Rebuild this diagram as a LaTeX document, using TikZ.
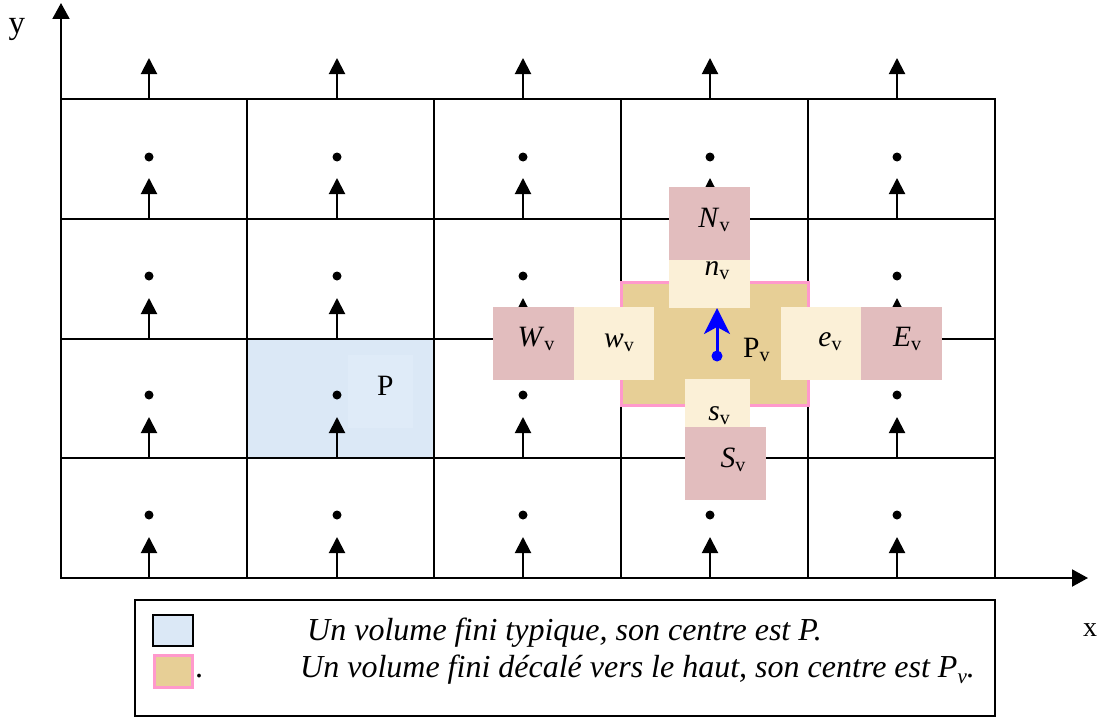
\documentclass[tikz,border=0pt]{standalone}
\usepackage{fontspec}
\setmainfont{Liberation Serif}
\usetikzlibrary{arrows.meta}
\definecolor{pinkbox}{RGB}{226,189,190}
\definecolor{creambox}{RGB}{251,240,215}
\definecolor{tanbox}{RGB}{231,207,150}
\definecolor{pinkborder}{RGB}{255,153,204}
\definecolor{bluecell}{RGB}{219,232,246}
\definecolor{bluecellhi}{RGB}{223,235,248}
\newcommand{\vsub}{\raisebox{-0.16em}{\fontsize{20}{20}\selectfont v}}
\newcommand{\vsubit}{\raisebox{-0.2em}{\fontsize{21}{21}\selectfont\itshape v}}
\begin{document}
\begin{tikzpicture}[x=1pt,y=-1pt,
  uparrow/.style={line width=2pt,-{Triangle[width=16pt,length=16pt]}},
  axis/.style={line width=2pt,-{Triangle[width=17pt,length=16pt]}},
  blackdot/.style={circle,fill=black,inner sep=0pt,minimum size=9pt},
  gridline/.style={line width=1.7pt},
  cellbox/.style={rectangle,draw=none,inner sep=0pt,anchor=north west},
  lab/.style={font=\fontsize{29.5}{34}\selectfont,inner sep=0pt,anchor=base},
  legtext/.style={font=\fontsize{32}{36}\selectfont\itshape,inner sep=0pt,anchor=base west}]
\useasboundingbox (0,0) rectangle (1105,717);

% typical finite volume
\fill[bluecell] (247,339) rectangle (434,458);
\fill[bluecellhi] (348,355) rectangle (413,428);

% grid
\draw[gridline] (61,99) rectangle (995,578);
\foreach \yy in {219,339,458} \draw[gridline] (61,\yy) -- (995,\yy);
\foreach \xx in {247,434,621,808} \draw[gridline] (\xx,99) -- (\xx,578);

% axes
\coordinate (O) at (61,578);
\coordinate (ytip) at (61,3);
\coordinate (xtip) at (1088,578);
\draw[axis] (O) -- (ytip);
\draw[axis] (O) -- (xtip);
\node[font=\fontsize{33}{36}\selectfont,inner sep=0pt,anchor=base] (ylab) at (17,34) {y};
\node[font=\fontsize{28}{30}\selectfont,inner sep=0pt,anchor=base] (xlab) at (1090,636) {x};

% staggered arrows and dots
\foreach \xx in {149,337,523,710,897} {
  \foreach \yy in {99,219,339,458,578} {
    \coordinate (b) at (\xx,\yy);
    \coordinate (t) at (\xx,\yy-41);
    \draw[uparrow] (b) -- (t);
  }
  \foreach \yy in {157,276,395,515} \node[blackdot] at (\xx,\yy) {};
}

% shifted finite volume
\draw[line width=3pt,draw=pinkborder,fill=tanbox] (621,282) rectangle (808,405);

% neighbour boxes
\node[cellbox,fill=creambox,minimum width=81pt,minimum height=48pt] (nvbox) at (669,260) {};
\node[lab] (nv) at (717,275) {\textit{n}\vsub};
\node[cellbox,fill=pinkbox,minimum width=81pt,minimum height=73pt] (Nvbox) at (669,187) {};
\node[lab] (Nv) at (714,227) {\textit{N}\vsub};

\node[cellbox,fill=pinkbox,minimum width=81pt,minimum height=73pt] (Wvbox) at (493,307) {};
\node[lab] (Wv) at (536,346) {\textit{W}\vsub};
\node[cellbox,fill=creambox,minimum width=80pt,minimum height=73pt] (wvbox) at (574,307) {};
\node[lab] (wv) at (619,347) {\textit{w}\vsub};

\node[cellbox,fill=creambox,minimum width=80pt,minimum height=73pt] (evbox) at (781,307) {};
\node[lab] (ev) at (830,346) {\textit{e}\vsub};
\node[cellbox,fill=pinkbox,minimum width=81pt,minimum height=73pt] (Evbox) at (861,307) {};
\node[lab] (Ev) at (907,346) {\textit{E}\vsub};

\node[cellbox,fill=creambox,minimum width=65pt,minimum height=48pt] (svbox) at (685,379) {};
\node[lab] (sv) at (719,420) {\textit{s}\vsub};
\node[cellbox,fill=pinkbox,minimum width=81pt,minimum height=73pt] (Svbox) at (685,427) {};
\node[lab] (Sv) at (733,467) {\textit{S}\vsub};

% centre of shifted volume
\node[circle,fill=blue,inner sep=0pt,minimum size=11pt] (Pvdot) at (717,356) {};
\coordinate (Pvtip) at (717,308);
\draw[blue,line width=3pt,-{Stealth[width=26pt,length=26pt,inset=7pt]}] (Pvdot.center) -- (Pvtip);
\node[lab,anchor=base west] (Pv) at (743,357) {P\vsub};

% centre of typical volume
\node[lab,anchor=base west] (P) at (377,395) {P};

% legend
\draw[gridline] (135,600) rectangle (995,716);
\draw[line width=1.7pt,fill=bluecell] (153,615) rectangle (193,646);
\draw[line width=3pt,draw=pinkborder,fill=tanbox] (154,655) rectangle (192,687);
\node[legtext,font=\fontsize{32}{36}\selectfont] (legdot) at (195,677) {.};
\node[legtext] (leg1) at (307,640) {Un volume fini typique, son centre est P.};
\node[legtext] (leg2) at (300,677) {Un volume fini décalé vers le haut, son centre est P\vsubit.};
\end{tikzpicture}
\end{document}
